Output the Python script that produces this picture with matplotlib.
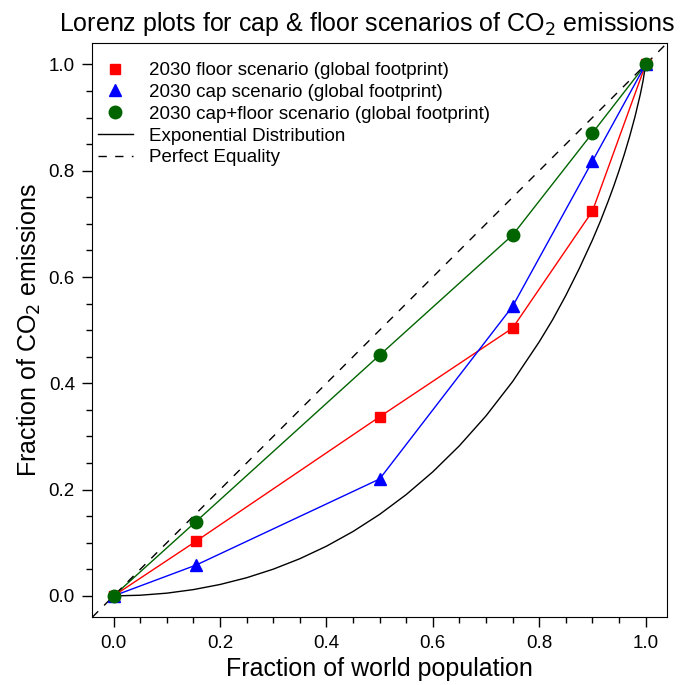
import matplotlib
matplotlib.use('Agg')
import matplotlib.pyplot as plt
from matplotlib.ticker import MultipleLocator

plt.rcParams['font.family'] = ['Liberation Sans', 'DejaVu Sans']

# population share of each point
pop = [0.0, 0.155, 0.5, 0.75, 0.9, 1.0]
floor_2030 = [0.0, 0.103, 0.337, 0.504, 0.724, 1.0]
cap_2030 = [0.0, 0.058, 0.220, 0.545, 0.818, 1.0]
capfloor_2030 = [0.0, 0.140, 0.453, 0.679, 0.871, 1.0]

# exponential distribution curve
exp_x = [0.0, 0.05, 0.1, 0.15, 0.2, 0.25, 0.3, 0.35, 0.4, 0.45, 0.5, 0.55, 0.6,
         0.65, 0.7, 0.75, 0.8, 0.825, 0.85, 0.875, 0.9, 0.915, 0.93, 0.94, 0.95,
         0.96, 0.97, 0.98, 0.99, 0.995, 1.0]
exp_y = [0.0, 0.0013, 0.0052, 0.0119, 0.0215, 0.0342, 0.0503, 0.070, 0.0935, 0.1212,
         0.1534, 0.1907, 0.2335, 0.2826, 0.3388, 0.4034, 0.4781, 0.5194, 0.5654,
         0.6155, 0.6697, 0.7052, 0.7438, 0.7710, 0.8002, 0.8312, 0.8648, 0.9018,
         0.9439, 0.9685, 1.0]

eq = [-0.04, 1.04]

f, ax = plt.subplots(figsize=(6.94, 6.85), dpi=100)
f.subplots_adjust(left=0.133, right=0.961, bottom=0.099, top=0.937)

series = [
    (floor_2030, 'red', 's', 6.5, '2030 floor scenario (global footprint)'),
    (cap_2030, 'blue', '^', 9, '2030 cap scenario (global footprint)'),
    (capfloor_2030, '#006400', 'o', 9, '2030 cap+floor scenario (global footprint)'),
]
for vals, col, mk, size, lab in series:
    ax.plot(pop, vals, color=col, lw=1.0)
for vals, col, mk, size, lab in series:
    ax.plot(pop, vals, ls='none', color=col, marker=mk, ms=size, label=lab, zorder=3)

ax.plot(exp_x, exp_y, color='black', lw=1.0, label='Exponential Distribution')
ax.plot(eq, eq, color='black', lw=1.0, ls=(0, (6, 6)), label='Perfect Equality')

ax.set_xlim(-0.04, 1.04)
ax.set_ylim(-0.04, 1.04)
ax.xaxis.set_major_locator(MultipleLocator(0.2))
ax.yaxis.set_major_locator(MultipleLocator(0.2))
ax.xaxis.set_minor_locator(MultipleLocator(0.05))
ax.yaxis.set_minor_locator(MultipleLocator(0.05))
ax.xaxis.set_major_formatter(plt.FormatStrFormatter('%.1f'))
ax.yaxis.set_major_formatter(plt.FormatStrFormatter('%.1f'))
ax.tick_params(which='major', direction='out', length=7.5, width=1, labelsize=13.5, pad=5)
ax.tick_params(which='minor', direction='out', length=4, width=1)

ax.set_title('Lorenz plots for cap & floor scenarios of CO$_2$ emissions',
             fontsize=18, pad=9, x=0.478)
ax.set_xlabel('Fraction of world population', fontsize=18)
ax.set_ylabel('Fraction of CO$_2$ emissions', fontsize=18)

ax.legend(loc='upper left', bbox_to_anchor=(0, 0.977), fontsize=13.5, frameon=False,
          handlelength=1.85, borderaxespad=0.0, borderpad=0.3, labelspacing=0.25,
          handletextpad=0.9)

plt.savefig('out.png')
